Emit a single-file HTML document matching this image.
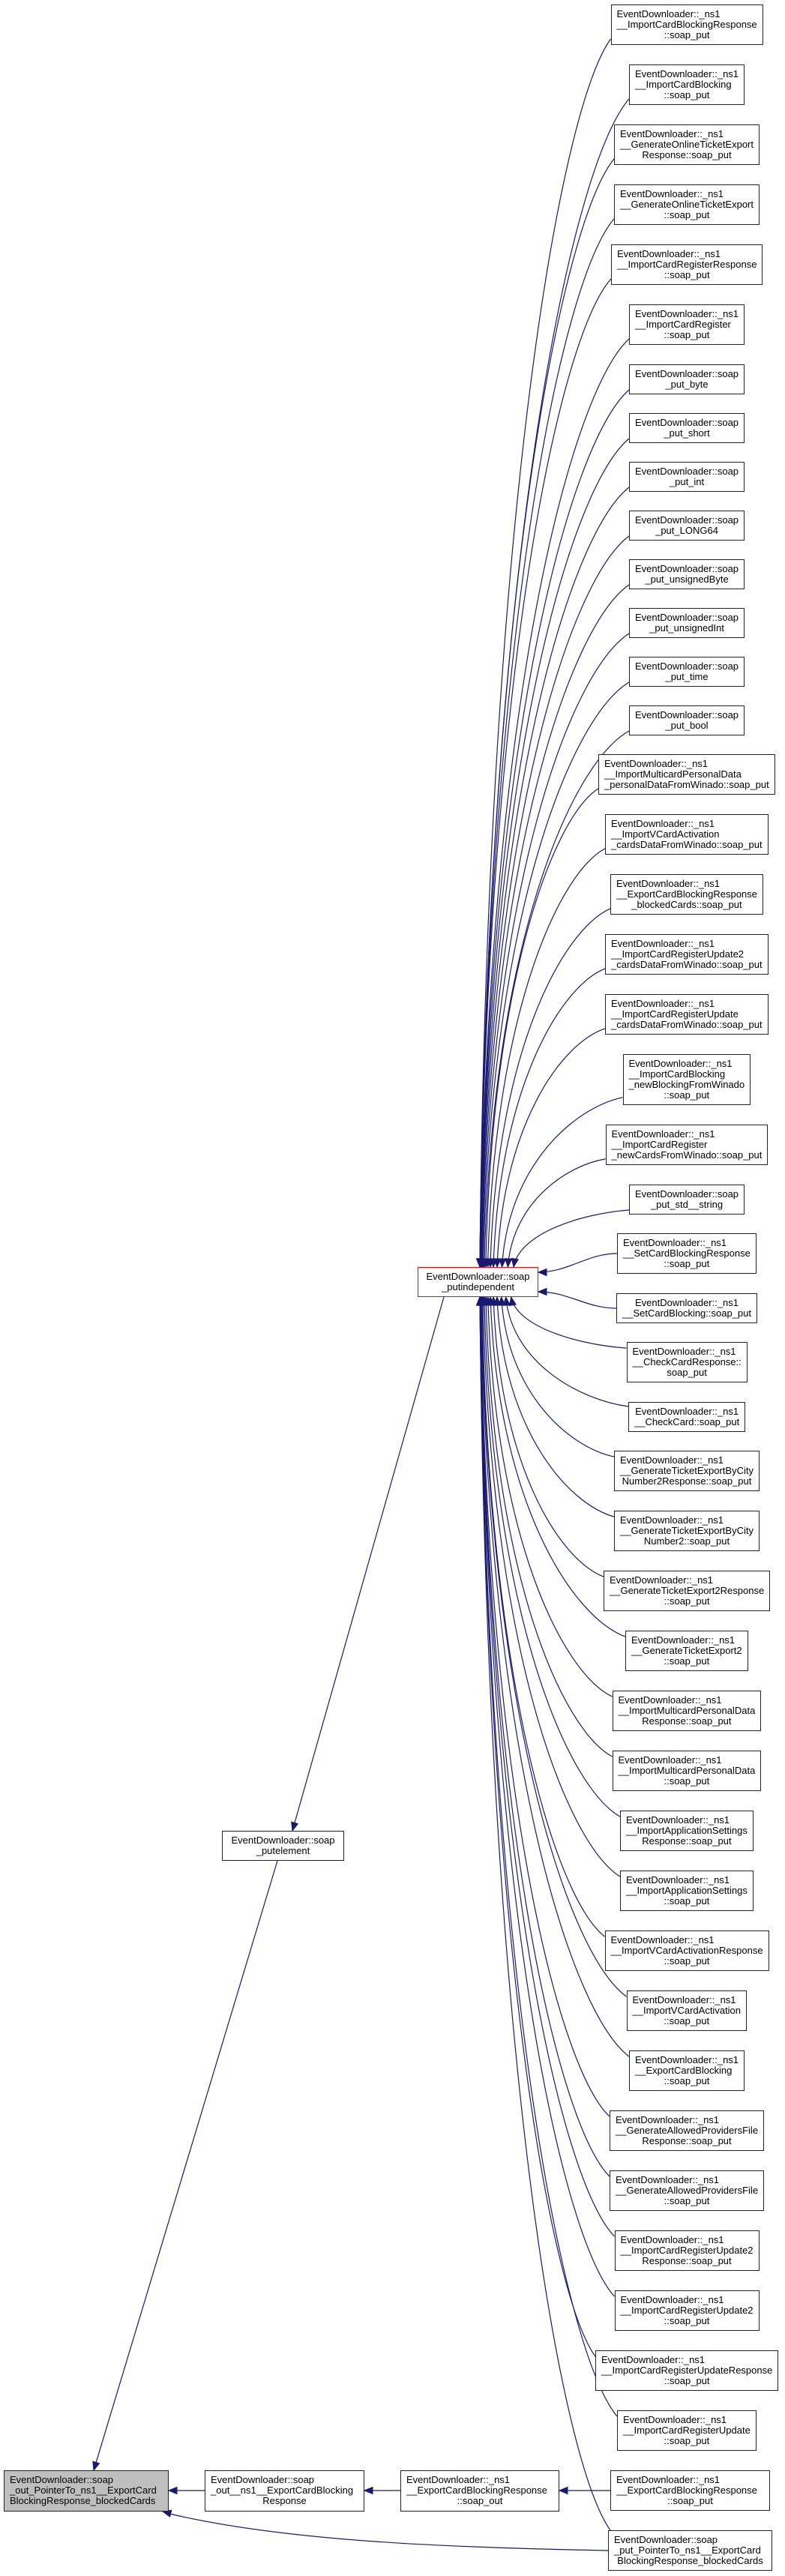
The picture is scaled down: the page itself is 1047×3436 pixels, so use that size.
<!DOCTYPE html>
<html><head><meta charset="utf-8">
<style>
html,body{margin:0;padding:0;background:#fff;}
body{width:1047px;height:3436px;position:relative;overflow:hidden;font-family:"Liberation Sans",Arial,sans-serif;}
.n{position:absolute;box-sizing:border-box;border:1px solid #222;background:#fff;font-size:13px;line-height:14px;padding:5px 7px;white-space:nowrap;color:#000;}
.n div{text-align:left}
.n div.c{text-align:center}
svg{position:absolute;left:0;top:0;}
</style></head><body>
<svg id="s" width="1047" height="3436"></svg>
<div id="col"></div>
<div class="n" id="pi" style="left:557px;top:1690px;width:161px;height:40px;border-color:#ff0000;text-align:center"><div class="c">EventDownloader::soap</div><div class="c">_putindependent</div></div>
<div class="n" id="pe" style="left:296px;top:2442px;width:163px;height:40px;text-align:center"><div class="c">EventDownloader::soap</div><div class="c">_putelement</div></div>
<div class="n" id="bl" style="left:5px;top:3295px;width:220px;height:55px;background:#bfbfbf;"><div>EventDownloader::soap</div><div>_out_PointerTo_ns1__ExportCard</div><div>BlockingResponse_blockedCards</div></div>
<div class="n" id="b2" style="left:273px;top:3295px;width:213px;height:55px;"><div>EventDownloader::soap</div><div>_out__ns1__ExportCardBlocking</div><div class="c">Response</div></div>
<div class="n" id="b3" style="left:534px;top:3295px;width:212px;height:55px;"><div>EventDownloader::_ns1</div><div>__ExportCardBlockingResponse</div><div class="c">::soap_out</div></div>
<script>
var L=[
["EventDownloader::_ns1","__ImportCardBlockingResponse","::soap_put"],
["EventDownloader::_ns1","__ImportCardBlocking","::soap_put"],
["EventDownloader::_ns1","__GenerateOnlineTicketExport","Response::soap_put"],
["EventDownloader::_ns1","__GenerateOnlineTicketExport","::soap_put"],
["EventDownloader::_ns1","__ImportCardRegisterResponse","::soap_put"],
["EventDownloader::_ns1","__ImportCardRegister","::soap_put"],
["EventDownloader::soap","_put_byte"],
["EventDownloader::soap","_put_short"],
["EventDownloader::soap","_put_int"],
["EventDownloader::soap","_put_LONG64"],
["EventDownloader::soap","_put_unsignedByte"],
["EventDownloader::soap","_put_unsignedInt"],
["EventDownloader::soap","_put_time"],
["EventDownloader::soap","_put_bool"],
["EventDownloader::_ns1","__ImportMulticardPersonalData","_personalDataFromWinado::soap_put"],
["EventDownloader::_ns1","__ImportVCardActivation","_cardsDataFromWinado::soap_put"],
["EventDownloader::_ns1","__ExportCardBlockingResponse","_blockedCards::soap_put"],
["EventDownloader::_ns1","__ImportCardRegisterUpdate2","_cardsDataFromWinado::soap_put"],
["EventDownloader::_ns1","__ImportCardRegisterUpdate","_cardsDataFromWinado::soap_put"],
["EventDownloader::_ns1","__ImportCardBlocking","_newBlockingFromWinado","::soap_put"],
["EventDownloader::_ns1","__ImportCardRegister","_newCardsFromWinado::soap_put"],
["EventDownloader::soap","_put_std__string"],
["EventDownloader::_ns1","__SetCardBlockingResponse","::soap_put"],
["EventDownloader::_ns1","__SetCardBlocking::soap_put"],
["EventDownloader::_ns1","__CheckCardResponse::","soap_put"],
["EventDownloader::_ns1","__CheckCard::soap_put"],
["EventDownloader::_ns1","__GenerateTicketExportByCity","Number2Response::soap_put"],
["EventDownloader::_ns1","__GenerateTicketExportByCity","Number2::soap_put"],
["EventDownloader::_ns1","__GenerateTicketExport2Response","::soap_put"],
["EventDownloader::_ns1","__GenerateTicketExport2","::soap_put"],
["EventDownloader::_ns1","__ImportMulticardPersonalData","Response::soap_put"],
["EventDownloader::_ns1","__ImportMulticardPersonalData","::soap_put"],
["EventDownloader::_ns1","__ImportApplicationSettings","Response::soap_put"],
["EventDownloader::_ns1","__ImportApplicationSettings","::soap_put"],
["EventDownloader::_ns1","__ImportVCardActivationResponse","::soap_put"],
["EventDownloader::_ns1","__ImportVCardActivation","::soap_put"],
["EventDownloader::_ns1","__ExportCardBlocking","::soap_put"],
["EventDownloader::_ns1","__GenerateAllowedProvidersFile","Response::soap_put"],
["EventDownloader::_ns1","__GenerateAllowedProvidersFile","::soap_put"],
["EventDownloader::_ns1","__ImportCardRegisterUpdate2","Response::soap_put"],
["EventDownloader::_ns1","__ImportCardRegisterUpdate2","::soap_put"],
["EventDownloader::_ns1","__ImportCardRegisterUpdateResponse","::soap_put"],
["EventDownloader::_ns1","__ImportCardRegisterUpdate","::soap_put"],
["EventDownloader::_ns1","__ExportCardBlockingResponse","::soap_put"],
["EventDownloader::soap","_put_PointerTo_ns1__ExportCard","BlockingResponse_blockedCards"]
];
var col=document.getElementById('col');var y=6;var nodes=[];
L.forEach(function(ls,i){
 var d=document.createElement('div');d.className='n';
 var h=12+14*ls.length;
 ls.forEach(function(t,j){var e=document.createElement('div');e.textContent=t;
   if(j==ls.length-1||ls.length==2)e.className='c';d.appendChild(e);});
 d.style.top=y+'px';d.style.height=h+'px';
 col.appendChild(d);
 var w=d.offsetWidth;
 if(i==43){d.style.left='814px';d.style.width='213px';w=213;}
 else if(i==44){d.style.left='811px';d.style.width='219px';w=219;}
 else d.style.left=(916-w/2)+'px';
 nodes.push({l:parseFloat(d.style.left),t:y,h:h});
 y+= (ls.length==2?65:h+26);
});
var s=document.getElementById('s');var NS='http://www.w3.org/2000/svg';var C='#191970';
function path(dd){var p=document.createElementNS(NS,'path');p.setAttribute('d',dd);p.setAttribute('fill','none');p.setAttribute('stroke',C);p.setAttribute('stroke-width','1.2');s.appendChild(p);}
function arrow(x,y,fx,fy){var dx=x-fx,dy=y-fy,m=Math.sqrt(dx*dx+dy*dy)||1;dx/=m;dy/=m;
 var bx=x-dx*11,by=y-dy*11,px=-dy*4.5,py=dx*4.5;
 var p=document.createElementNS(NS,'polygon');p.setAttribute('points',x+','+y+' '+(bx+px)+','+(by+py)+' '+(bx-px)+','+(by-py));
 p.setAttribute('fill',C);p.setAttribute('stroke',C);s.appendChild(p);}
nodes.forEach(function(n,i){
 if(i==43)return;
 var cy=n.t+n.h/2,sx=n.l,sy,ex,ey;
 if(i==44){sx=n.l+3;sy=n.t;}
 if(cy<1660){sy=n.t+n.h*0.85;ey=1690;ex=640+45*Math.pow(cy/1600,4);}
 else if(cy<1700){sy=cy;ex=718;ey=1697;}
 else if(cy<1760){sy=cy;ex=718;ey=1723;}
 else {if(i!=44)sy=n.t+n.h*0.15;ey=1730;ex=640+45*Math.pow((3436-cy)/1650,4);}
 var dy=ey-sy;
 var c1x=sx-0.4*(sx-ex),c1y=sy+dy*0.06,c2x=ex+(sx-ex)*0.05,c2y=ey-dy*0.6;
 if(Math.abs(dy)<60){c1x=sx-40;c1y=sy;c2x=ex+40;c2y=ey;}
 path('M'+sx+','+sy+' C'+c1x+','+c1y+' '+c2x+','+c2y+' '+ex+','+ey);
 arrow(ex,ey,c2x,c2y);
});
// putindependent -> putelement
path('M592,1730 L390,2442');arrow(390,2442,592,1730);
path('M370,2482 L125,3295');arrow(125,3295,370,2482);
path('M273,3322 L225,3322');arrow(225,3322,273,3322);
path('M534,3322 L486,3322');arrow(486,3322,534,3322);
path('M814,3322 L746,3322');arrow(746,3322,814,3322);
path('M811,3402 C600,3398 380,3390 222,3352');arrow(217,3350,380,3390);
</script>
</body></html>
